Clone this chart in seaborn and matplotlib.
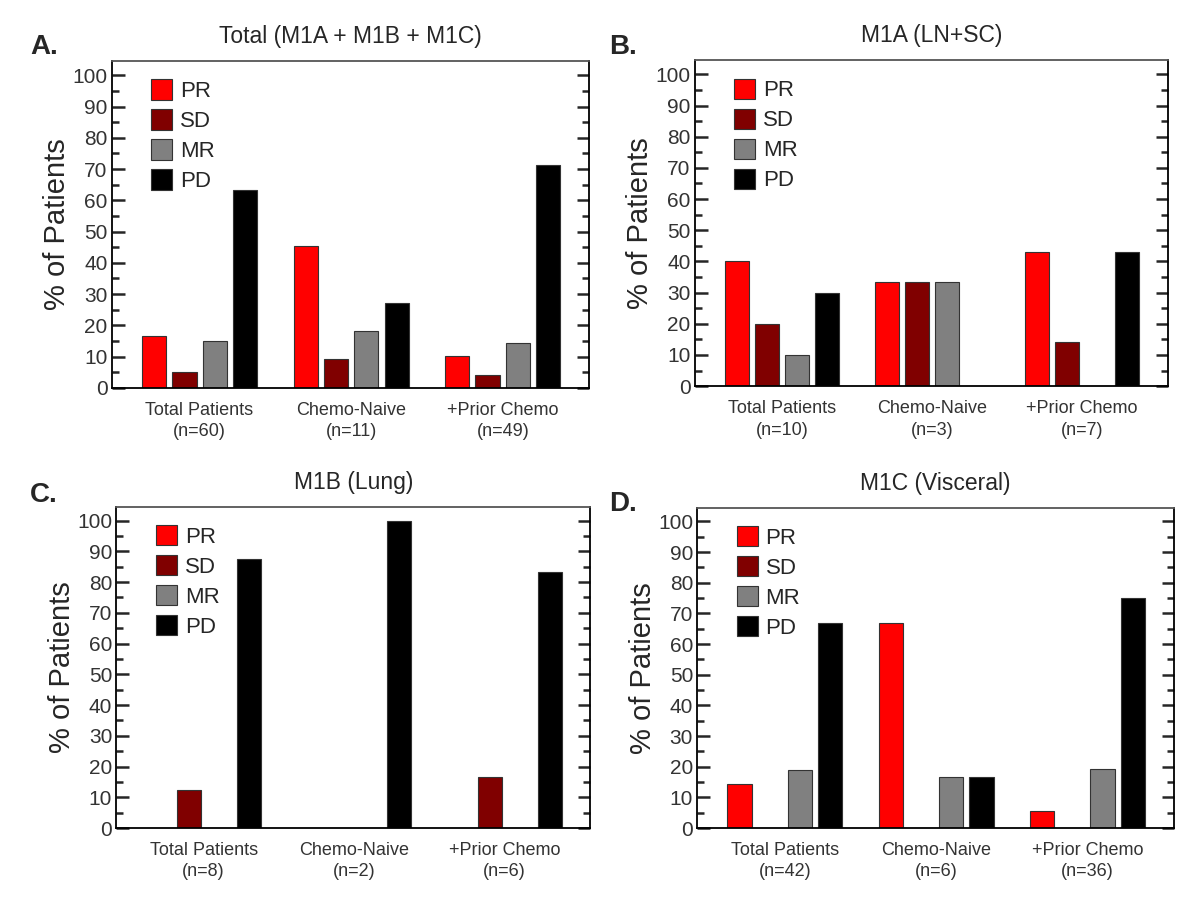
import numpy as np
import pandas as pd
import matplotlib
matplotlib.use("Agg")
import matplotlib.pyplot as plt
import seaborn as sns

# Data
groups = ["Total Patients", "Chemo-Naive", "+Prior Chemo"]
responses = ["PR", "SD", "MR", "PD"]
colors = ["#ff0000", "#800000", "#808080", "#000000"]

titles = ["Total (M1A + M1B + M1C)", "M1A (LN+SC)", "M1B (Lung)", "M1C (Visceral)"]
letters = ["A.", "B.", "C.", "D."]
n_total = [[60, 11, 49], [10, 3, 7], [8, 2, 6], [42, 6, 36]]

# rows = groups, columns = PR, SD, MR, PD
vals_a = [[16.7, 5.0, 15.0, 63.3], [45.5, 9.1, 18.2, 27.3], [10.2, 4.1, 14.3, 71.4]]
vals_b = [[40.0, 20.0, 10.0, 30.0], [33.3, 33.3, 33.3, 0.0], [42.9, 14.3, 0.0, 42.9]]
vals_c = [[0.0, 12.5, 0.0, 87.5], [0.0, 0.0, 0.0, 100.0], [0.0, 16.7, 0.0, 83.3]]
vals_d = [[14.3, 0.0, 19.0, 66.7], [66.7, 0.0, 16.7, 16.7], [5.6, 0.0, 19.4, 75.0]]
panels = [vals_a, vals_b, vals_c, vals_d]

sns.set_style("white")
plt.rcParams["font.family"] = ["Liberation Sans", "DejaVu Sans"]

fig = plt.figure(figsize=(12, 9), dpi=100)
positions = [
    [0.093, 0.569, 0.398, 0.363],
    [0.579, 0.571, 0.394, 0.362],
    [0.097, 0.080, 0.395, 0.357],
    [0.581, 0.080, 0.397, 0.356],
]
letter_pos = [(0.025, 0.940), (0.508, 0.940), (0.025, 0.442), (0.508, 0.432)]

for i, vals in enumerate(panels):
    ax = fig.add_axes(positions[i])
    ticklabels = [f"{g}\n(n={n})" for g, n in zip(groups, n_total[i])]
    df = pd.DataFrame(
        [(ticklabels[g], responses[r], vals[g][r]) for g in range(3) for r in range(4)],
        columns=["group", "response", "pct"],
    )
    sns.barplot(data=df, x="group", y="pct", hue="response", hue_order=responses,
                palette=colors, saturation=1, width=0.8, gap=0.2,
                edgecolor="#333333", linewidth=0.8, ax=ax)
    ax.set_ylim(0, 104.5)
    ax.set_xlim(-0.58, 2.57)
    ax.set_yticks(np.arange(0, 101, 10))
    ax.set_yticks(np.arange(5, 101, 10), minor=True)
    ax.tick_params(axis="y", which="major", direction="in", length=9, width=1.8,
                   right=True, left=True, labelsize=15, labelcolor="#333333", pad=3)
    ax.tick_params(axis="y", which="minor", direction="in", length=5, width=1.8,
                   right=True, left=True)
    ax.tick_params(axis="x", length=0, labelsize=13, labelcolor="#333333", pad=10)
    for lab in ax.get_xticklabels():
        lab.set_linespacing(1.35)
    for s in ax.spines.values():
        s.set_visible(True)
        s.set_color("black")
        s.set_linewidth(1.3)
    ax.spines["top"].set_color("#555555")
    ax.set_xlabel("")
    ax.set_ylabel("% of Patients", fontsize=21, labelpad=1)
    ax.set_title(titles[i], fontsize=16.5, pad=13)
    ax.legend(loc="upper left", bbox_to_anchor=(0.055, 0.985), frameon=False,
              fontsize=16, handlelength=0.95, handleheight=1.05,
              handletextpad=0.35, labelspacing=0.32, borderaxespad=0.2)
    fig.text(letter_pos[i][0], letter_pos[i][1], letters[i], fontsize=20,
             fontweight="bold")

fig.savefig("out.png", dpi=100)
